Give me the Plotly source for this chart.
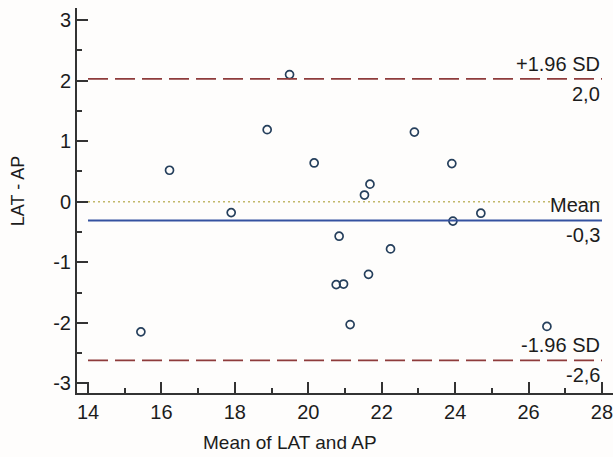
import plotly.graph_objects as go

# Bland-Altman data
mean_lat_ap = [15.44, 16.22, 17.90, 18.88, 19.49, 20.16, 21.68, 21.53, 22.89, 23.91,
               24.70, 23.94, 20.84, 22.24, 21.64, 20.76, 20.96, 21.14, 26.50]
diff_lat_ap = [-2.15, 0.52, -0.18, 1.19, 2.10, 0.64, 0.29, 0.11, 1.15, 0.63,
               -0.19, -0.32, -0.57, -0.78, -1.20, -1.37, -1.36, -2.03, -2.06]

mean_diff = -0.31
upper_loa = 2.03
lower_loa = -2.62
line_x = [14, 28]
x_ticks = [14, 16, 18, 20, 22, 24, 26, 28]
y_ticks = [-3, -2, -1, 0, 1, 2, 3]

FONT = "Liberation Sans, Arial, sans-serif"
TXT = "#1c1c1c"

fig = go.Figure()

fig.add_trace(go.Scatter(
    x=mean_lat_ap, y=diff_lat_ap, mode="markers",
    marker=dict(symbol="circle-open", size=8, color="#253f5c", line=dict(width=1.7)),
    showlegend=False, hoverinfo="x+y"))

# reference lines
fig.add_shape(type="line", xref="x", yref="y", x0=line_x[0], x1=line_x[1], y0=0, y1=0,
              line=dict(color="#c2b86a", width=1.6, dash="2px,3px"))
fig.add_shape(type="line", xref="x", yref="y", x0=line_x[0], x1=line_x[1], y0=mean_diff, y1=mean_diff,
              line=dict(color="#3452a0", width=2))
for v in (upper_loa, lower_loa):
    fig.add_shape(type="line", xref="x", yref="y", x0=line_x[0], x1=line_x[1], y0=v, y1=v,
                  line=dict(color="#8e3b3b", width=1.8, dash="20px,7px"))

labels = [
    ("+1.96 SD", upper_loa, "bottom"), ("2,0", upper_loa, "top"),
    ("Mean", mean_diff, "bottom"), ("-0,3", mean_diff, "top"),
    ("-1.96 SD", lower_loa, "bottom"), ("-2,6", lower_loa, "top"),
]
for text, yv, anchor in labels:
    fig.add_annotation(x=line_x[1], y=yv, xref="x", yref="y", text=text, showarrow=False,
                       xanchor="right", yanchor=anchor, yshift=2 if anchor == "bottom" else -2,
                       font=dict(family=FONT, size=20, color=TXT))

# axis titles as annotations
fig.add_annotation(xref="paper", yref="paper", x=0.397, y=(393 - 455) / 385, text="Mean of LAT and AP",
                   showarrow=False, xanchor="center", yanchor="bottom",
                   font=dict(family=FONT, size=19, color=TXT))
fig.add_annotation(xref="paper", yref="paper", x=-(77 - 17.5) / 536, y=0.523, text="LAT - AP",
                   showarrow=False, xanchor="center", yanchor="middle", textangle=-90,
                   font=dict(family=FONT, size=18, color=TXT))

axis_common = dict(showgrid=False, zeroline=False, showline=True, linecolor="#333333", linewidth=2,
                   ticks="inside", ticklen=11, tickwidth=2, tickcolor="#333333",
                   ticklabeloverflow="allow",
                   tickfont=dict(family=FONT, size=20, color=TXT))

fig.update_xaxes(range=[13.7, 28.3], tickvals=x_ticks, ticktext=[str(t) for t in x_ticks],
                 minor=dict(dtick=1, tick0=0, ticks="inside", ticklen=5, tickwidth=2, tickcolor="#333333"),
                 **axis_common)
fig.update_yaxes(range=[-3.16, 3.2], tickvals=y_ticks, ticktext=[str(t) for t in y_ticks],
                 minor=dict(dtick=0.5, tick0=0, ticks="inside", ticklen=5, tickwidth=2, tickcolor="#333333"),
                 **axis_common)

fig.update_layout(width=613, height=457, margin=dict(l=77, r=0, t=8, b=64),
                  paper_bgcolor="#fefdfc", plot_bgcolor="#fefdfc", showlegend=False)

fig.write_html("out.html")
